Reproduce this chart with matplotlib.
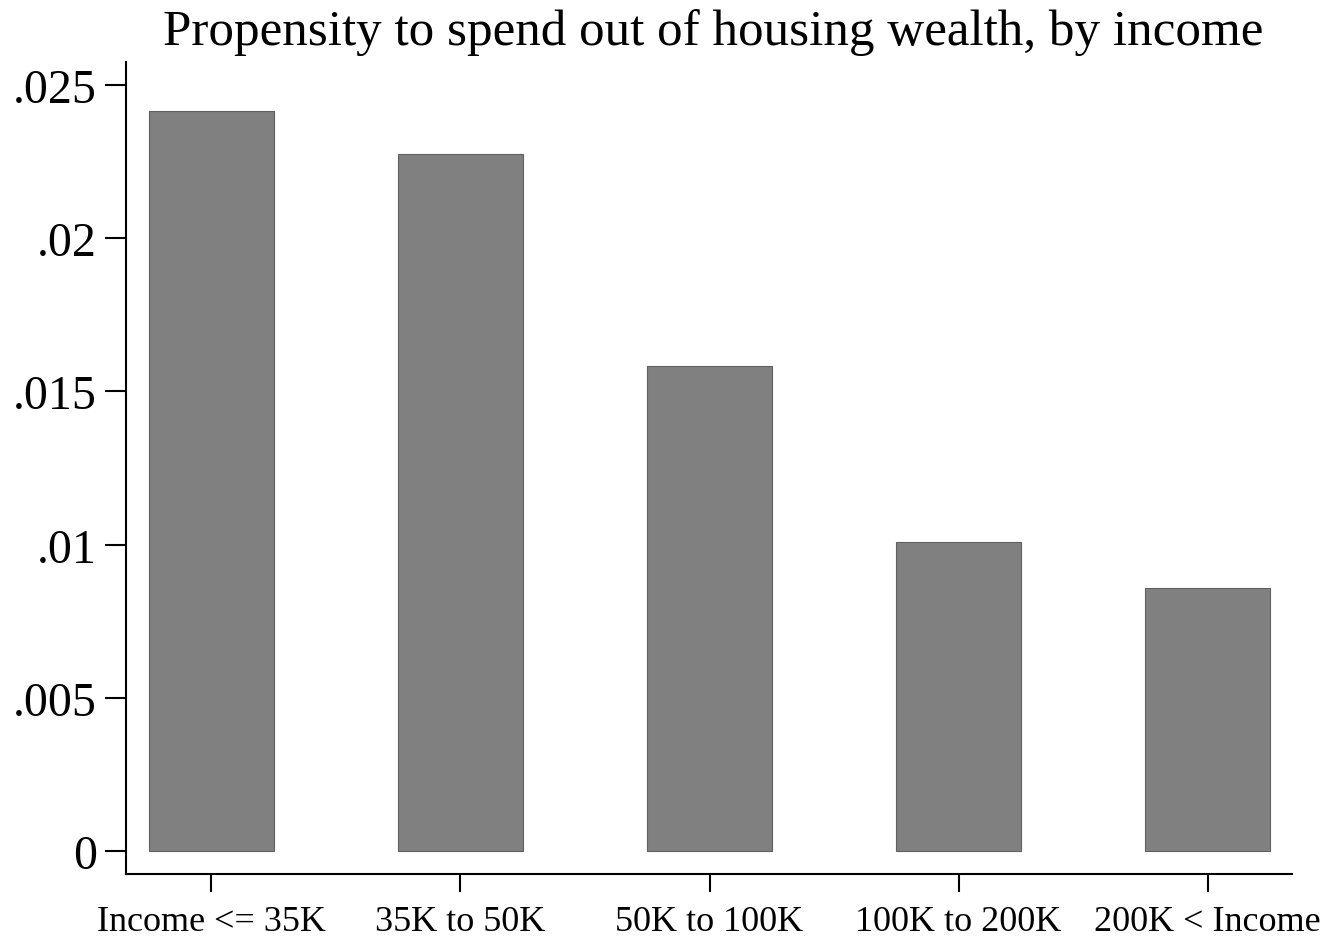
import numpy as np
import matplotlib
matplotlib.use("Agg")
import matplotlib.pyplot as plt

CATEGORIES = ["Income <= 35K", "35K to 50K", "50K to 100K", "100K to 200K", "200K < Income"]
PROPENSITY = [0.02415, 0.02275, 0.01583, 0.01008, 0.00858]
Y_TICKS = [0, 0.005, 0.01, 0.015, 0.02, 0.025]
Y_TICK_LABELS = ["0", ".005", ".01", ".015", ".02", ".025"]
TITLE = "Propensity to spend out of housing wealth, by income"

plt.rcParams["font.family"] = ["Liberation Serif", "DejaVu Serif"]


def main():
    figure = plt.figure(figsize=(13.32, 9.37), dpi=100)
    axes = figure.add_axes([0.0946, 0.0662, 0.8754, 0.8666])

    xs = np.arange(len(CATEGORIES))
    axes.bar(xs, PROPENSITY, width=0.5, color="#808080",
             edgecolor="#606060", linewidth=0.8)

    axes.set_xlim(-0.343, 4.339)
    axes.set_ylim(-0.00075, 0.02575)
    axes.set_xticks(xs)
    axes.set_xticklabels(CATEGORIES, fontsize=26)
    axes.set_yticks(Y_TICKS)
    axes.set_yticklabels(Y_TICK_LABELS, fontsize=34.5)
    axes.tick_params(axis="x", length=13, width=1.5, pad=9, direction="out")
    axes.tick_params(axis="y", length=15, width=1.5, pad=6, direction="out")

    for side in ("top", "right"):
        axes.spines[side].set_visible(False)
    for side in ("left", "bottom"):
        axes.spines[side].set_linewidth(1.5)

    figure.text(0.5356, 0.965, TITLE, ha="center", va="center", fontsize=36.8)
    figure.savefig("out.png", dpi=100)
    plt.close(figure)


if __name__ == "__main__":
    main()
